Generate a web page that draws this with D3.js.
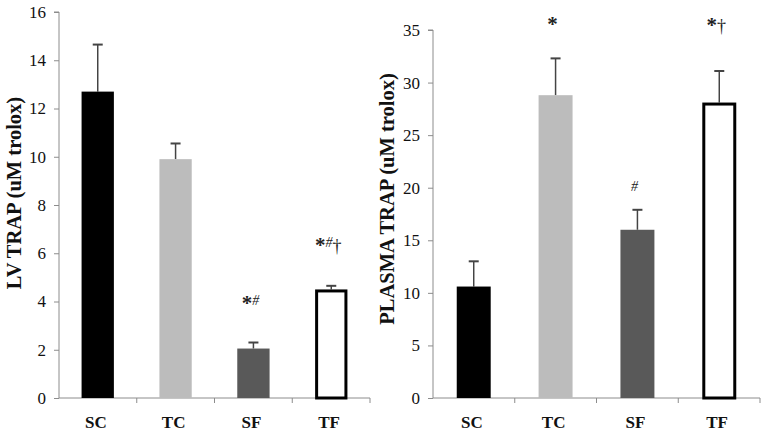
<!DOCTYPE html>
<html><head><meta charset="utf-8">
<script src="https://cdn.jsdelivr.net/npm/d3@7"></script>
<style>body{margin:0;background:#fff}svg{display:block}</style>
</head><body>
<svg id="c" width="766" height="433"></svg>
<script>
const categories = ["SC","TC","SF","TF"];
const lvValues = [12.7, 9.9, 2.05, 4.5];
const lvErrors = [14.65, 10.55, 2.3, 4.65];
const lvMarks = ["", "", "*#", "*#†"];
const lvMarkLevels = [0, 0, 3.9, 6.3];
const lvTicks = [0,2,4,6,8,10,12,14,16];
const plValues = [10.6, 28.8, 16.0, 28.1];
const plErrors = [13.0, 32.3, 17.9, 31.1];
const plMarks = ["", "*", "#", "*†"];
const plMarkLevels = [0, 35.5, 19.8, 35.4];
const plTicks = [0,5,10,15,20,25,30,35];
const fills = ["#000000","#bcbcbc","#595959","#ffffff"];

const svg = d3.select("#c");
const serif = "Liberation Serif, Times New Roman, Times, serif";

function panel(o){
  const g = svg.append("g");
  const x = d3.scaleBand().domain(categories).range([o.x0, o.x1]).paddingInner(0.585).paddingOuter(0.29);
  const y = d3.scaleLinear().domain([0, o.max]).range([398, o.top]);
  // y axis
  const ya = g.append("g").attr("transform", `translate(${o.x0},0)`)
    .call(d3.axisLeft(y).tickValues(o.ticks).tickSize(5).tickPadding(8));
  ya.attr("font-family", serif);
  ya.select(".domain").attr("stroke","#8c8c8c").attr("d", `M-5,${y(o.max)}H0V${y(0)}`);
  ya.selectAll(".tick line").attr("stroke","#8c8c8c");
  ya.selectAll(".tick text").attr("font-family", serif).attr("font-size", 17).attr("fill","#111");
  // x axis
  const band = (o.x1 - o.x0) / categories.length;
  g.append("line").attr("x1", o.x0).attr("x2", o.x1).attr("y1", y(0)).attr("y2", y(0)).attr("stroke","#8c8c8c");
  categories.forEach((c,i)=>{
    g.append("line").attr("x1", o.x0 + band*(i+1)).attr("x2", o.x0 + band*(i+1))
      .attr("y1", y(0)).attr("y2", y(0)+5).attr("stroke","#8c8c8c");
    g.append("text").attr("x", o.x0 + band*(i+0.5) - 2).attr("y", 428)
      .attr("text-anchor","middle").attr("font-family", serif).attr("font-weight","bold")
      .attr("font-size", 17).attr("fill","#111").text(c);
  });
  // error bars
  categories.forEach((c,i)=>{
    const cx = x(c) + x.bandwidth()/2;
    g.append("line").attr("x1",cx).attr("x2",cx).attr("y1",y(o.vals[i])).attr("y2",y(o.errs[i]))
      .attr("stroke","#444").attr("stroke-width",1.5);
    g.append("line").attr("x1",cx-5).attr("x2",cx+5).attr("y1",y(o.errs[i])).attr("y2",y(o.errs[i]))
      .attr("stroke","#444").attr("stroke-width",2);
  });
  // bars
  g.selectAll("rect.bar").data(categories).enter().append("rect")
    .attr("x", (d)=> x(d) + (d==="TF"?1.5:0))
    .attr("width", (d)=> x.bandwidth() - (d==="TF"?3:0))
    .attr("y", (d,i)=> y(o.vals[i]) + (d==="TF"?1.5:0))
    .attr("height", (d,i)=> y(0) - y(o.vals[i]) - (d==="TF"?1.5:0))
    .attr("fill", (d,i)=> fills[i])
    .attr("stroke", (d)=> d==="TF" ? "#000" : "none")
    .attr("stroke-width", 3);
  // annotations
  categories.forEach((c,i)=>{
    const m = o.marks[i];
    if(!m) return;
    const cx = x(c) + x.bandwidth()/2 - 3;
    const t = g.append("text").attr("x", cx).attr("y", y(o.levels[i]) + 6)
      .attr("text-anchor","middle").attr("font-family", serif).attr("fill","#222");
    let raised = false;
    for(const ch of m){
      if(ch==="*"){
        t.append("tspan").attr("font-size",21).attr("font-weight","bold").text("*");
      } else if(ch==="#"){
        t.append("tspan").attr("font-size",14).attr("font-style","italic").attr("dy",-5).text("#");
        raised = true;
      } else {
        t.append("tspan").attr("font-size",18).attr("dy", raised?5:0).text(ch);
        raised = false;
      }
    }
  });
  // y label
  g.append("text").attr("transform", `translate(${o.lx},${o.ly}) rotate(-90)`)
    .attr("text-anchor","middle").attr("dominant-baseline","central")
    .attr("font-family", serif).attr("font-weight","bold").attr("font-size", 20.5).attr("fill","#111")
    .text(o.label);
}

panel({x0:59, x1:370, max:16, top:12, ticks:lvTicks, vals:lvValues, errs:lvErrors, marks:lvMarks, levels:lvMarkLevels, label:"LV TRAP (uM trolox)", lx:14, ly:193});
panel({x0:433, x1:760, max:35, top:30, ticks:plTicks, vals:plValues, errs:plErrors, marks:plMarks, levels:plMarkLevels, label:"PLASMA TRAP (uM trolox)", lx:387, ly:199});
</script>
</body></html>
